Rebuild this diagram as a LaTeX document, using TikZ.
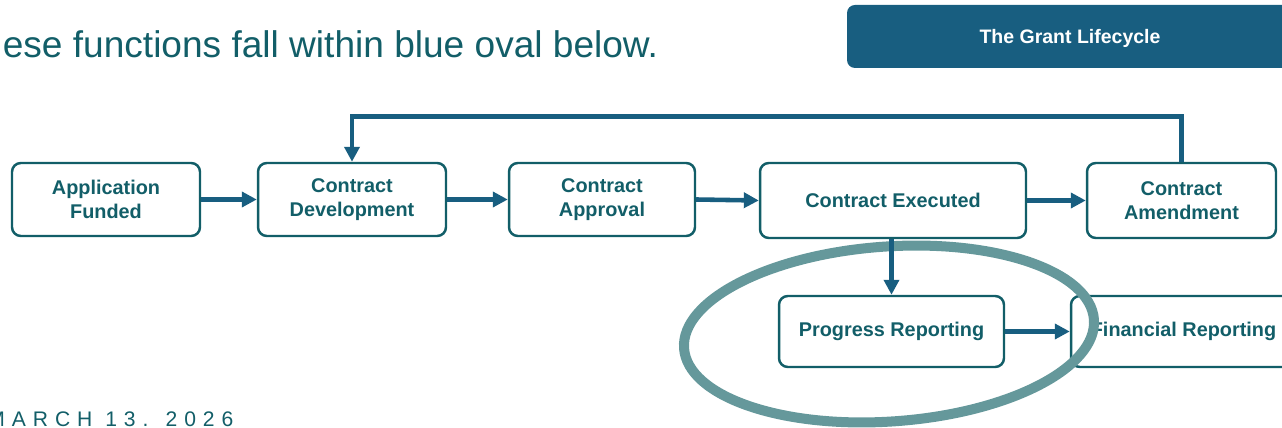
\documentclass[tikz,border=0pt]{standalone}
\usepackage{fontspec}
\setmainfont{Liberation Sans}
\usepackage{tikz}
\usetikzlibrary{arrows.meta, shapes.geometric}
\definecolor{gtteal}{RGB}{18, 94, 104}
\definecolor{gtblue}{RGB}{24, 94, 128}
\definecolor{gtoval}{RGB}{101, 152, 155}

\begin{document}
\begin{tikzpicture}[x=0.02cm, y=-0.02cm,
  stage/.style={draw=gtteal, fill=white, line width=1.4pt, rounded corners=5pt,
    text=gtteal, font=\fontsize{11.3}{13.6}\selectfont\bfseries, align=center,
    minimum height=1.46cm, inner sep=0pt},
  flow/.style={-{Triangle[length=8.5pt,width=8.5pt]}, line width=2.6pt, gtblue}]
  \useasboundingbox (0,0) rectangle (1282,428);
  \clip (0,0) rectangle (1282,428);

  % heading line and title bar
  \node[anchor=base west, inner sep=0pt, text=gtteal, font=\fontsize{21.1}{25}\selectfont]
    (head) at (2.5,58) {ese functions fall within blue oval below.};
  \node[fill=gtblue, rounded corners=4.5pt, minimum width=8.92cm, minimum height=1.26cm,
    text depth=0pt, text=white, font=\fontsize{11.1}{13}\selectfont\bfseries] (title) at (1070,36.5) {The Grant Lifecycle};

  % top row
  \node[stage, minimum width=3.76cm] (funded) at (106,199.5) {Application\\Funded};
  \node[stage, minimum width=3.76cm] (develop) at (352,199.5) {Contract\\Development};
  \node[stage, minimum width=3.72cm] (approve) at (602,199.5) {Contract\\Approval};
  \node[stage, minimum width=5.32cm, minimum height=1.5cm] (execute) at (893,200.5) {Contract Executed};
  \node[stage, minimum width=3.78cm, minimum height=1.5cm] (amend) at (1181.5,200.5) {Contract\\Amendment};

  % reporting row
  \node[stage, minimum width=4.5cm, minimum height=1.42cm] (progress) at (891.5,331.5) {Progress Reporting};
  \node[stage, minimum width=4.5cm, minimum height=1.42cm] (finance) at (1183.5,331.5) {Financial Reporting};

  % highlight oval
  \node[ellipse, draw=gtoval, line width=5.7pt, minimum width=8.22cm, minimum height=3.5cm,
    rotate=4] (oval) at (889,334) {};

  % connectors
  \draw[flow] (funded.east) -- (develop.west);
  \draw[flow] (develop.east) -- (approve.west);
  \draw[flow] (approve.east) -- (execute.west);
  \draw[flow] (execute.east) -- (amend.west);
  \draw[flow] (amend.north) -- ++(0,-45) -| (develop.north);
  \draw[flow] (execute.south -| progress.north) -- (progress.north);
  \draw[flow] (progress.east) -- (finance.west);

  % date line
  \node[anchor=base west, inner sep=0pt, text=gtteal,
    font=\fontsize{12}{14}\selectfont\addfontfeatures{LetterSpace=33}] (date) at (-13,426.5) {MARCH 13. 2026};
\end{tikzpicture}
\end{document}
